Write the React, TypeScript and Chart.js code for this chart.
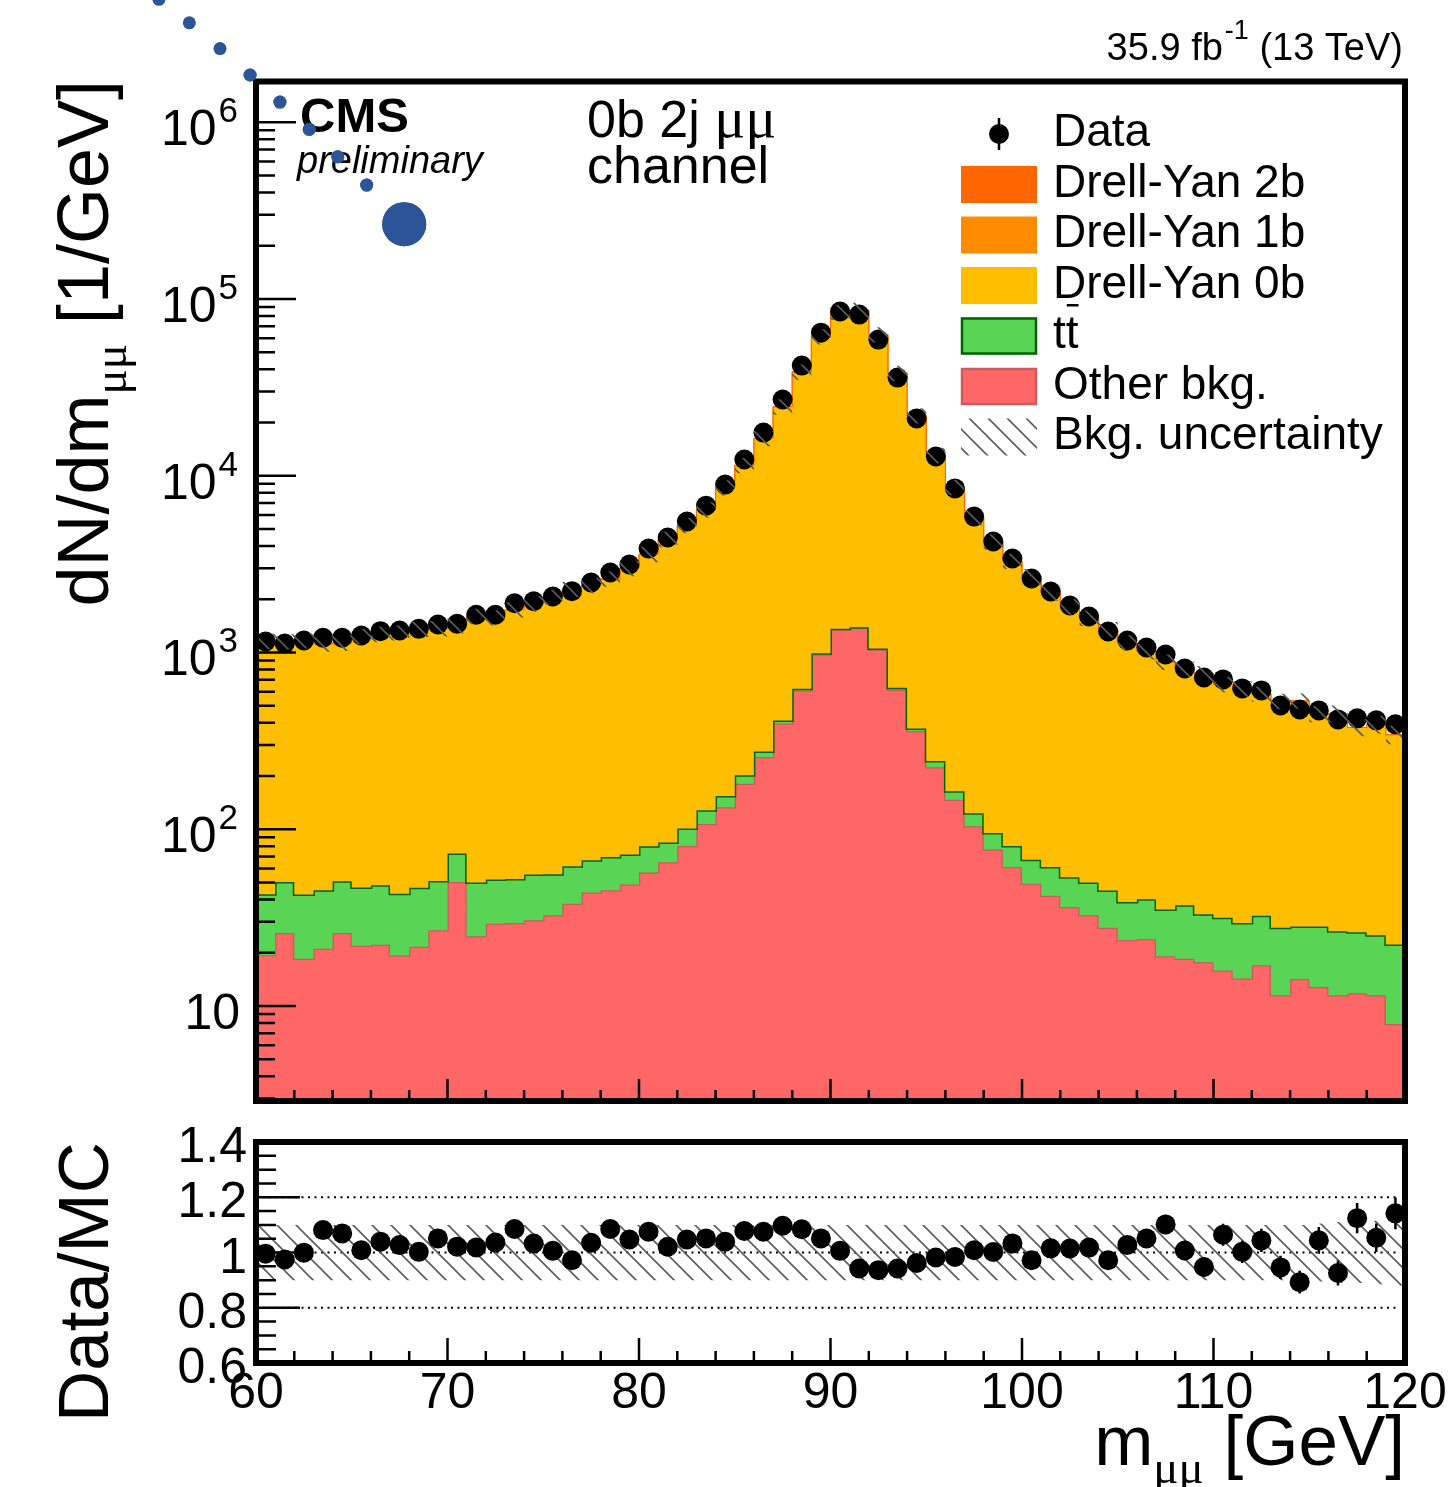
import React, { useEffect, useRef } from "react";
import { Chart, registerables } from "chart.js";

Chart.register(...registerables);

// ---------------- data ----------------
const BIN_EDGES = [60, 61, 62, 63, 64, 65, 66, 67, 68, 69, 70, 71, 72, 73, 74, 75, 76, 77, 78, 79, 80, 81, 82, 83, 84, 85, 86, 87, 88, 89, 90, 91, 92, 93, 94, 95, 96, 97, 98, 99, 100, 101, 102, 103, 104, 105, 106, 107, 108, 109, 110, 111, 112, 113, 114, 115, 116, 117, 118, 119, 120];

const DATA = [1154, 1124, 1169, 1211, 1211, 1248, 1320, 1332, 1361, 1440,
  1453, 1634, 1634, 1899, 1950, 2073, 2222, 2489, 2835, 3145,
  3871, 4473, 5505, 6774, 8913, 12360, 17540, 26980, 42000, 64500,
  84900, 81600, 58900, 35900, 21100, 12850, 8480, 5870, 4245, 3400,
  2620, 2212, 1843, 1598, 1314, 1169, 1067, 974, 812, 722,
  704, 626, 610, 502, 476, 470, 418, 424, 413, 392];

const OTHER_BKG = [19.4, 25.9, 18.5, 21.1, 25.9, 21.9, 22.2, 19.3, 21.6, 26.8,
  50.3, 24.8, 29.2, 29.5, 30.6, 32.6, 37.9, 43.8, 45.2, 48.7,
  57.0, 65.0, 80.3, 107, 133, 181, 256, 396, 610, 975,
  1349, 1380, 1036, 615, 359, 224, 147, 104, 76.7, 61.2,
  49.2, 42.0, 36.3, 32.6, 27.7, 23.6, 23.9, 19.1, 18.5, 17.7,
  15.9, 14.3, 17.0, 11.5, 14.2, 12.8, 11.5, 11.8, 11.5, 7.9];

const TTBAR = [23.5, 24.4, 24.2, 24.1, 24.9, 24.9, 26.0, 23.9, 25.0, 24.2,
  22.5, 25.1, 22.7, 22.8, 24.8, 23.0, 23.9, 23.0, 24.5, 23.2,
  23.2, 19.1, 20.7, 21, 21, 21, 19, 16, 14, 16,
  12, 10, 18, 16, 13, 19, 17, 19, 18.4, 19.1,
  18.1, 19.2, 17.2, 17.3, 17.3, 15.2, 16.3, 16.1, 18.6, 15.3,
  15.7, 15.2, 15.4, 16.2, 14.0, 15.4, 15.0, 14.3, 13.6, 14.4];

const DY_0B = [1107, 1094, 1118, 1066, 1073, 1182, 1212, 1244, 1301, 1309,
  1339, 1543, 1514, 1685, 1819, 1990, 2207, 2320, 2523, 2909,
  3494, 4264, 5117, 6268, 8360, 11178, 15919, 23997, 37831, 59919,
  82400, 84584, 61401, 37193, 21396, 12744, 8389, 5656, 4111, 3186,
  2608, 2102, 1749, 1509, 1297, 1090, 967, 843, 763, 723,
  625, 590, 547, 499, 501, 418, 421, 348, 364, 318];

const DY_1B = [7, 7, 7, 7, 7, 7, 8, 8, 8, 8,
  9, 10, 9, 10, 11, 12, 14, 14, 16, 18,
  22, 26, 32, 39, 51, 69, 98, 148, 232, 368,
  506, 520, 378, 229, 132, 79, 52, 35, 25, 20,
  16, 13, 11, 9, 8, 7, 6, 5, 5, 5,
  4, 4, 4, 3, 3, 3, 3, 2, 2, 2];

const DY_2B = [2, 2, 2, 2, 2, 2, 2, 2, 2, 2,
  2, 2, 2, 3, 3, 3, 3, 4, 4, 5,
  5, 7, 8, 10, 13, 17, 24, 37, 58, 92,
  127, 130, 94, 57, 33, 20, 13, 9, 6, 5,
  4, 3, 3, 2, 2, 2, 2, 1, 1, 1,
  1, 1, 1, 1, 1, 1, 1, 1, 1, 1];

const BKG_UNC = [0.10, 0.10, 0.10, 0.10, 0.10, 0.10, 0.10, 0.10, 0.10, 0.10,
  0.10, 0.10, 0.10, 0.10, 0.10, 0.10, 0.10, 0.10, 0.10, 0.10,
  0.10, 0.10, 0.10, 0.10, 0.10, 0.10, 0.10, 0.10, 0.10, 0.10,
  0.10, 0.10, 0.10, 0.10, 0.10, 0.10, 0.10, 0.10, 0.10, 0.10,
  0.10, 0.10, 0.10, 0.10, 0.10, 0.10, 0.10, 0.10, 0.10, 0.10,
  0.10, 0.10, 0.10, 0.10, 0.10, 0.105, 0.11, 0.11, 0.115, 0.12];

const X_TICKS = [60, 70, 80, 90, 100, 110, 120];
const Y_MAIN_TICKS = [10, 100, 1000, 10000, 100000, 1000000];
const RATIO_TICKS = [0.6, 0.8, 1, 1.2, 1.4];
const RATIO_REF_LINES = [0.8, 1, 1.2];

// stray blue markers (top-left of the picture)
const BLUE_X = [67.74, 54.93, 56.52, 58.12, 59.69, 61.25, 62.78, 64.27, 65.78];
const BLUE_Y = [2.65e5, 4.96e6, 3.65e6, 2.61e6, 1.85e6, 1.30e6, 9.12e5, 6.37e5, 4.41e5];
const BLUE_R = [22, 6.5, 6.5, 6.5, 6.5, 6.5, 6.5, 6.5, 6.5];

const LEGEND_LABELS = ["Data", "Drell-Yan 2b", "Drell-Yan 1b", "Drell-Yan 0b", "tt", "Other bkg.", "Bkg. uncertainty"];

// ---------------- style ----------------
const SANS = '"Liberation Sans", Arial, Helvetica, sans-serif';
const SERIF = '"Liberation Serif", "Times New Roman", serif';
const COL = {
  dy2b: "#ff6600",
  dy1b: "#ff8c00",
  dy0b: "#ffbf00",
  tt: "#59d454",
  ttLine: "#006400",
  other: "#ff6666",
  otherLine: "#c95c5c",
  blue: "#2c5599",
  hatch: "#5c5c5c",
};

// ---------------- derived ----------------
const CENTERS = DATA.map((_, i) => (BIN_EDGES[i] + BIN_EDGES[i + 1]) / 2);
const CUM1 = OTHER_BKG.map((v) => v);
const CUM2 = CUM1.map((v, i) => v + TTBAR[i]);
const CUM3 = CUM2.map((v, i) => v + DY_0B[i]);
const CUM4 = CUM3.map((v, i) => v + DY_1B[i]);
const TOTAL = CUM4.map((v, i) => v + DY_2B[i]);
const RATIO = DATA.map((d, i) => d / TOTAL[i]);
const RATIO_ERR = DATA.map((d, i) => Math.sqrt(d) / TOTAL[i]);

function stepPoints(values: number[]) {
  return BIN_EDGES.map((e, i) => ({ x: e, y: values[Math.min(i, values.length - 1)] }));
}

type Part = { text: string; size: number; family?: string; weight?: string; style?: string; dy?: number; dx?: number };
function fontOf(p: Part) {
  return `${p.style || "normal"} ${p.weight || "normal"} ${p.size}px ${p.family || SANS}`;
}
function drawParts(ctx: CanvasRenderingContext2D, parts: Part[], x: number, y: number, align: "left" | "right" | "center") {
  ctx.save();
  ctx.textAlign = "left";
  ctx.textBaseline = "alphabetic";
  const widths = parts.map((p) => {
    ctx.font = fontOf(p);
    return ctx.measureText(p.text).width + (p.dx || 0);
  });
  const total = widths.reduce((a, b) => a + b, 0);
  let cx = align === "left" ? x : align === "right" ? x - total : x - total / 2;
  parts.forEach((p, i) => {
    ctx.font = fontOf(p);
    ctx.fillText(p.text, cx + (p.dx || 0), y + (p.dy || 0));
    cx += widths[i];
  });
  ctx.restore();
}
function drawRotated(ctx: CanvasRenderingContext2D, parts: Part[], xBase: number, yEnd: number) {
  ctx.save();
  ctx.translate(xBase, yEnd);
  ctx.rotate(-Math.PI / 2);
  drawParts(ctx, parts, 0, 0, "right");
  ctx.restore();
}

function makeHatch(): CanvasPattern | string {
  const s = 19;
  const c = document.createElement("canvas");
  c.width = s;
  c.height = s;
  const g = c.getContext("2d");
  if (!g) return "rgba(0,0,0,0.3)";
  g.strokeStyle = COL.hatch;
  g.lineWidth = 1.6;
  g.beginPath();
  for (const k of [-s, 0, s]) {
    g.moveTo(-2, -2 + k);
    g.lineTo(s + 2, s + 2 + k);
  }
  g.stroke();
  const pat = g.createPattern(c, "repeat");
  return pat || "rgba(0,0,0,0.3)";
}

const IDX_BAND_UP = 5;
const IDX_BLUE = 8;

function mainDecor(hatch: any) {
  return {
    id: "mainDecor",
    afterDatasetDraw(chart: any, args: any) {
      if (args.index !== IDX_BAND_UP) return;
      const ctx: CanvasRenderingContext2D = chart.ctx;
      const { left, right, top, bottom } = chart.chartArea;
      const xs = chart.scales.x;
      const ys = chart.scales.y;
      ctx.save();
      ctx.strokeStyle = "#000";
      ctx.fillStyle = "#000";
      ctx.lineWidth = 2.5;
      ctx.beginPath();
      for (let e = 0; e <= 6; e++) {
        for (let m = 1; m <= 9; m++) {
          const v = m * Math.pow(10, e);
          if (v <= ys.min || v >= ys.max) continue;
          const py = ys.getPixelForValue(v);
          const len = m === 1 ? 40 : 19;
          ctx.moveTo(left, py);
          ctx.lineTo(left + len, py);
        }
      }
      for (let v = X_TICKS[0]; v <= X_TICKS[X_TICKS.length - 1]; v += 2) {
        const px = xs.getPixelForValue(v);
        const len = v % 10 === 0 ? 22 : 11;
        ctx.moveTo(px, bottom);
        ctx.lineTo(px, bottom - len);
      }
      ctx.stroke();
      ctx.lineWidth = 6;
      ctx.strokeRect(left, top, right - left, bottom - top);

      // y labels
      Y_MAIN_TICKS.forEach((v) => {
        const py = ys.getPixelForValue(v);
        const exp = Math.round(Math.log10(v));
        if (exp === 1) drawParts(ctx, [{ text: "10", size: 50 }], 240, py + 23, "right");
        else drawParts(ctx, [{ text: "10", size: 50 }, { text: String(exp), size: 35, dy: -23, dx: 2 }], 238, py + 23, "right");
      });

      // y title
      drawRotated(ctx, [
        { text: "dN/dm", size: 72 },
        { text: "μμ", size: 47, family: SERIF, dy: 18 },
        { text: " [1/GeV]", size: 72 },
      ], 108, 80);

      // header texts
      drawParts(ctx, [
        { text: "35.9 fb", size: 38 },
        { text: "-1", size: 27, dy: -21, dx: 2 },
        { text: " (13 TeV)", size: 38 },
      ], 1403, 60, "right");
      drawParts(ctx, [{ text: "CMS", size: 49, weight: "bold" }], 300, 132, "left");
      drawParts(ctx, [{ text: "preliminary", size: 38, style: "italic" }], 297, 173, "left");
      drawParts(ctx, [{ text: "0b 2j ", size: 52 }, { text: "μμ", size: 58, family: SERIF }], 587, 137, "left");
      drawParts(ctx, [{ text: "channel", size: 52 }], 587, 183, "left");

      // legend
      const boxX = 961, boxW = 76, boxH = 37, textX = 1053, row0 = 134, step = 50.5;
      const rowY = (i: number) => row0 + i * step;
      ctx.lineWidth = 2.5;
      ctx.beginPath();
      ctx.moveTo(999, rowY(0) - 16);
      ctx.lineTo(999, rowY(0) + 16);
      ctx.stroke();
      ctx.beginPath();
      ctx.arc(999, rowY(0), 10, 0, Math.PI * 2);
      ctx.fill();
      const fills = [null, COL.dy2b, COL.dy1b, COL.dy0b, COL.tt, COL.other, hatch];
      const strokes = [null, null, null, null, COL.ttLine, COL.otherLine, null];
      for (let i = 1; i < 7; i++) {
        const cy = rowY(i);
        ctx.fillStyle = fills[i] as any;
        ctx.fillRect(boxX, cy - boxH / 2, boxW, boxH);
        if (strokes[i]) {
          ctx.strokeStyle = strokes[i] as string;
          ctx.lineWidth = 2.5;
          ctx.strokeRect(boxX + 1, cy - boxH / 2 + 1, boxW - 2, boxH - 2);
        }
      }
      ctx.fillStyle = "#000";
      LEGEND_LABELS.forEach((lab, i) => {
        drawParts(ctx, [{ text: lab, size: 46 }], textX, rowY(i) + 12, "left");
      });
      // overline for t-bar
      ctx.font = fontOf({ text: "t", size: 46 });
      const tw = ctx.measureText("t").width;
      ctx.fillRect(textX + tw + 1, rowY(4) + 12 - 44, tw - 1, 2.5);
      ctx.restore();
    },
    afterDatasetsDraw(chart: any) {
      // redraw the stray blue markers without the chart-area visibility test
      const meta = chart.getDatasetMeta(IDX_BLUE);
      const wide = { left: -1e5, top: -1e5, right: 1e5, bottom: 1e5, width: 2e5, height: 2e5 };
      meta.data.forEach((p: any) => p.draw(chart.ctx, wide));
    },
  };
}

const ratioDecor = {
  id: "ratioDecor",
  beforeDatasetsDraw(chart: any) {
    const ctx: CanvasRenderingContext2D = chart.ctx;
    const { left, right } = chart.chartArea;
    const ys = chart.scales.y;
    ctx.save();
    ctx.strokeStyle = "#000";
    ctx.lineWidth = 2;
    ctx.setLineDash([2, 4.5]);
    RATIO_REF_LINES.forEach((v) => {
      const py = ys.getPixelForValue(v);
      ctx.beginPath();
      ctx.moveTo(left, py);
      ctx.lineTo(right - 8, py);
      ctx.stroke();
    });
    ctx.restore();
  },
  afterDatasetsDraw(chart: any) {
    const ctx: CanvasRenderingContext2D = chart.ctx;
    const { left, right, top, bottom } = chart.chartArea;
    const xs = chart.scales.x;
    const ys = chart.scales.y;
    ctx.save();
    ctx.strokeStyle = "#000";
    ctx.fillStyle = "#000";
    ctx.lineWidth = 2.5;
    ctx.beginPath();
    CENTERS.forEach((c, i) => {
      const px = xs.getPixelForValue(c);
      ctx.moveTo(px, ys.getPixelForValue(RATIO[i] - RATIO_ERR[i]));
      ctx.lineTo(px, ys.getPixelForValue(RATIO[i] + RATIO_ERR[i]));
    });
    ctx.stroke();
    ctx.beginPath();
    for (let k = 0; k <= 16; k++) {
      const v = RATIO_TICKS[0] + k * 0.05;
      const py = ys.getPixelForValue(v);
      const len = k % 4 === 0 ? 44 : 20;
      ctx.moveTo(left, py);
      ctx.lineTo(left + len, py);
    }
    for (let v = X_TICKS[0]; v <= X_TICKS[X_TICKS.length - 1]; v += 2) {
      const px = xs.getPixelForValue(v);
      const len = v % 10 === 0 ? 25 : 12;
      ctx.moveTo(px, bottom);
      ctx.lineTo(px, bottom - len);
    }
    ctx.stroke();
    ctx.lineWidth = 6;
    ctx.strokeRect(left, top, right - left, bottom - top);
    RATIO_TICKS.forEach((v) => {
      const py = ys.getPixelForValue(v);
      drawParts(ctx, [{ text: String(v), size: 50 }], 247, py + 20, "right");
    });
    X_TICKS.forEach((v) => {
      const px = xs.getPixelForValue(v);
      drawParts(ctx, [{ text: String(v), size: 50 }], px, bottom + 45, "center");
    });
    drawRotated(ctx, [{ text: "Data/MC", size: 71 }], 108, top);
    drawParts(ctx, [
      { text: "m", size: 71 },
      { text: "μμ", size: 47, family: SERIF, dy: 18 },
      { text: " [GeV]", size: 71 },
    ], right, bottom + 102, "right");
    ctx.restore();
  },
};

export default function App() {
  const mainRef = useRef<HTMLCanvasElement>(null);
  const ratioRef = useRef<HTMLCanvasElement>(null);

  useEffect(() => {
    const hatch = makeHatch();
    const lineBase = { pointRadius: 0, pointHitRadius: 0, stepped: "before", tension: 0 };
    const mainChart = new Chart(mainRef.current as HTMLCanvasElement, {
      type: "line",
      data: {
        datasets: [
          { ...lineBase, label: "Other bkg.", data: stepPoints(CUM1), fill: "start", backgroundColor: COL.other, borderColor: COL.otherLine, borderWidth: 2.5, order: 7 },
          { ...lineBase, label: "tt", data: stepPoints(CUM2), fill: "-1", backgroundColor: COL.tt, borderColor: COL.ttLine, borderWidth: 3, order: 6 },
          { ...lineBase, label: "Drell-Yan 0b", data: stepPoints(CUM3), fill: "-1", backgroundColor: COL.dy0b, borderColor: COL.dy0b, borderWidth: 1, order: 5 },
          { ...lineBase, label: "Drell-Yan 1b", data: stepPoints(CUM4), fill: "-1", backgroundColor: COL.dy1b, borderColor: COL.dy1b, borderWidth: 1, order: 4 },
          { ...lineBase, label: "Drell-Yan 2b", data: stepPoints(TOTAL), fill: "-1", backgroundColor: COL.dy2b, borderColor: COL.dy2b, borderWidth: 1, order: 3 },
          { ...lineBase, label: "Bkg. uncertainty", data: stepPoints(TOTAL.map((t, i) => t * (1 + BKG_UNC[i]))), fill: "+1", backgroundColor: hatch, borderColor: "transparent", borderWidth: 0, order: 1 },
          { ...lineBase, label: "unc-low", data: stepPoints(TOTAL.map((t, i) => t * (1 - BKG_UNC[i]))), fill: false, borderColor: "transparent", borderWidth: 0, order: 1.5 },
          { label: "Data", data: CENTERS.map((c, i) => ({ x: c, y: DATA[i] })), showLine: false, pointRadius: 10, pointBackgroundColor: "#000", pointBorderWidth: 0, pointBorderColor: "#000", order: 2 },
          { label: "blue", data: BLUE_X.map((x, i) => ({ x, y: BLUE_Y[i] })), showLine: false, pointRadius: BLUE_R, pointBackgroundColor: COL.blue, pointBorderWidth: 0, pointBorderColor: COL.blue, clip: false, order: 0 },
        ] as any,
      },
      options: {
        animation: false,
        responsive: false,
        events: [],
        layout: { autoPadding: false, padding: { left: 256, right: 45, top: 81.5, bottom: 7 } },
        plugins: { legend: { display: false }, tooltip: { enabled: false }, title: { display: false } },
        scales: {
          x: { type: "linear", min: 60, max: 120, display: false },
          y: { type: "logarithmic", min: 2.9, max: 1.7e6, display: false },
        },
      } as any,
      plugins: [mainDecor(hatch)],
    });

    const ratioChart = new Chart(ratioRef.current as HTMLCanvasElement, {
      type: "line",
      data: {
        datasets: [
          { ...lineBase, label: "unc-up", data: stepPoints(BKG_UNC.map((u) => 1 + u)), fill: "+1", backgroundColor: hatch, borderColor: "transparent", borderWidth: 0, order: 2 },
          { ...lineBase, label: "unc-low", data: stepPoints(BKG_UNC.map((u) => 1 - u)), fill: false, borderColor: "transparent", borderWidth: 0, order: 3 },
          { label: "Data/MC", data: CENTERS.map((c, i) => ({ x: c, y: RATIO[i] })), showLine: false, pointRadius: 10, pointBackgroundColor: "#000", pointBorderWidth: 0, pointBorderColor: "#000", order: 0 },
        ] as any,
      },
      options: {
        animation: false,
        responsive: false,
        events: [],
        layout: { autoPadding: false, padding: { left: 256, right: 45, top: 42, bottom: 124 } },
        plugins: { legend: { display: false }, tooltip: { enabled: false }, title: { display: false } },
        scales: {
          x: { type: "linear", min: 60, max: 120, display: false },
          y: { type: "linear", min: 0.6, max: 1.4, display: false },
        },
      } as any,
      plugins: [ratioDecor],
    });

    return () => {
      mainChart.destroy();
      ratioChart.destroy();
    };
  }, []);

  return (
    <div style={{ position: "absolute", left: 0, top: 0, width: 1450, height: 1487, background: "#fff" }}>
      <canvas ref={mainRef} width={1450} height={1108} style={{ position: "absolute", left: 0, top: 0, width: 1450, height: 1108 }} />
      <canvas ref={ratioRef} width={1450} height={387} style={{ position: "absolute", left: 0, top: 1100, width: 1450, height: 387 }} />
    </div>
  );
}
